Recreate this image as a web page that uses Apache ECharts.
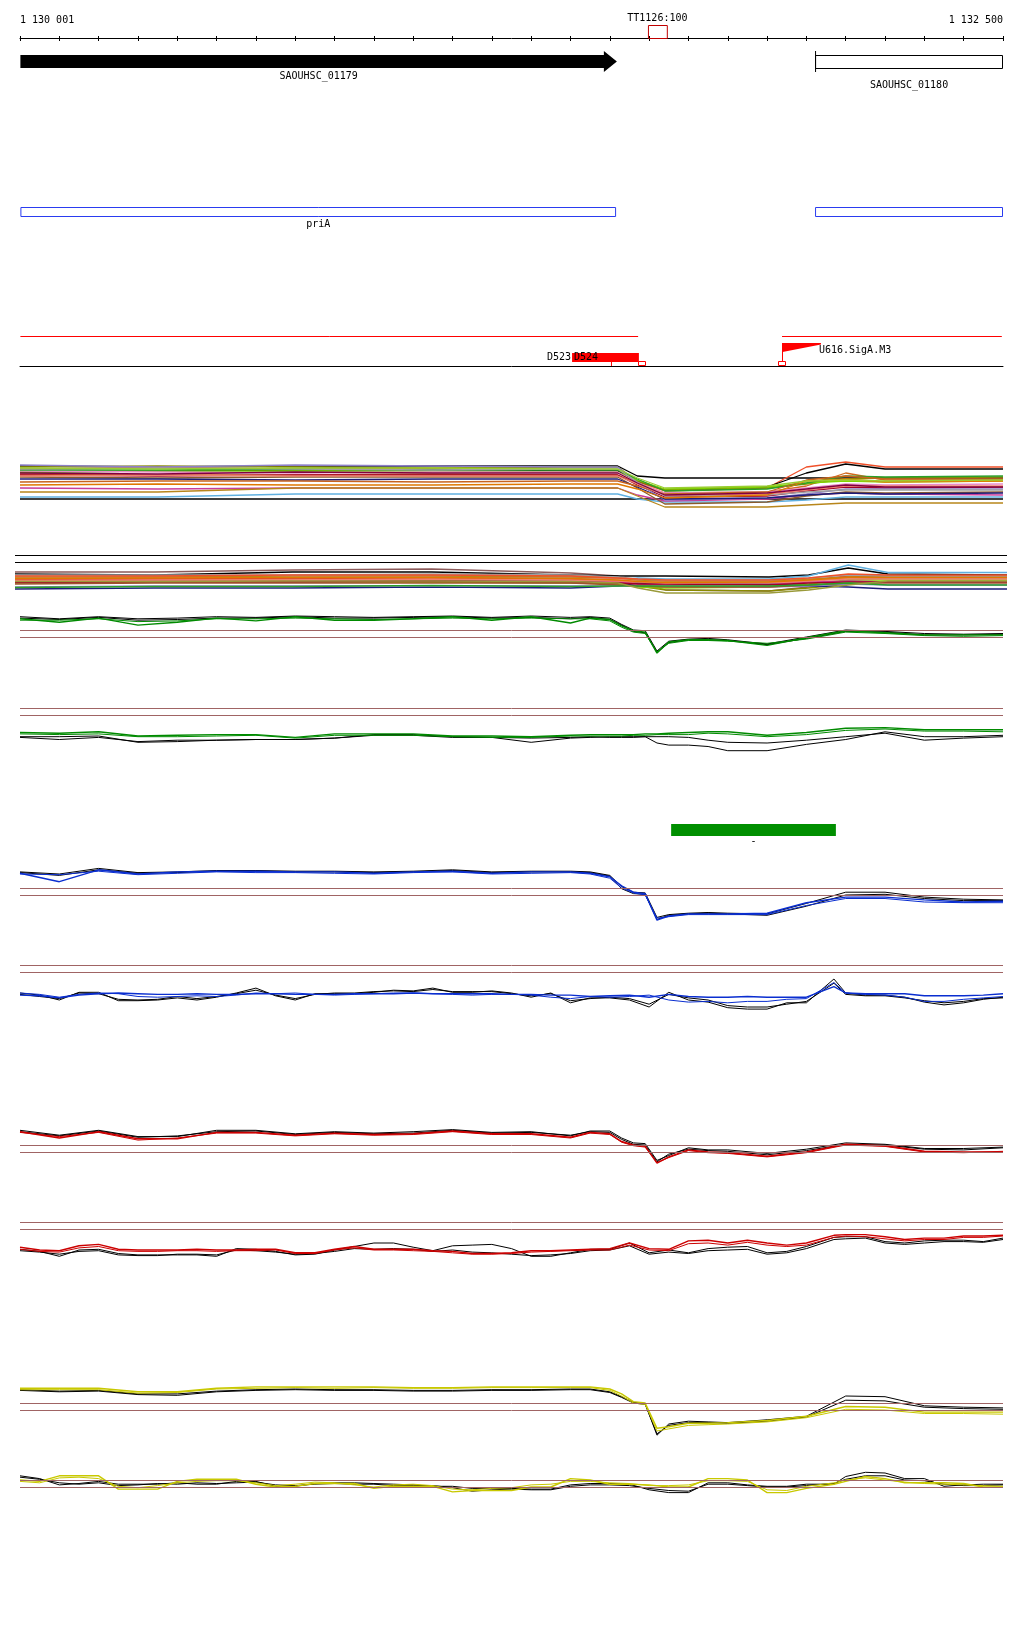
<!DOCTYPE html>
<html>
<head>
<meta charset="utf-8">
<title>SAOUHSC_01179 region</title>
<script src="https://cdn.jsdelivr.net/npm/echarts@6.0.0/dist/echarts.min.js"></script>
<style>
html,body{margin:0;padding:0;background:#ffffff;}
#chart{width:1024px;height:1640px;}
</style>
</head>
<body>
<div id="chart"></div>
<script>
// ---------------- data ----------------
const rangeStart = 1130000;
const rangeEnd = 1132500;
const tickStep = 100;
const rulerLabels = ['1 130 001', '1 132 500'];

const probeNames = ['TT1126:100'];
const probeStarts = [1131597];
const probeEnds = [1131645];

const geneNames = ['SAOUHSC_01179', 'SAOUHSC_01180'];
const geneStarts = [1130001, 1132022];
const geneEnds = [1131518, 1132500];
const geneStrands = [1, -1];

const operonNames = ['priA', ''];
const operonStarts = [1130001, 1132022];
const operonEnds = [1131516, 1132500];

const strandSpanStarts = [1130001, 1131938];
const strandSpanEnds = [1131572, 1132497];

const terminatorNames = ['D523', 'D524'];
const terminatorStarts = [1131404];
const terminatorEnds = [1131574];
const siteTicks = [1131503];
const siteBoxes = [1131581, 1131937];
const promoterNames = ['U616.SigA.M3'];
const promoterStarts = [1131938];
const promoterEnds = [1132037];

const regionNames = ['-'];
const regionStarts = [1131656];
const regionEnds = [1132075];

// positions of the sampled signal values
const posSmooth = [1130000,1130100,1130200,1130300,1130400,1130500,1130600,1130700,1130800,1130900,1131000,1131100,1131200,1131300,1131400,1131450,1131500,1131530,1131560,1131590,1131620,1131650,1131700,1131750,1131800,1131900,1132000,1132100,1132200,1132300,1132400,1132500];
const posNoisy = [1130000,1130050,1130100,1130150,1130200,1130250,1130300,1130350,1130400,1130450,1130500,1130550,1130600,1130650,1130700,1130750,1130800,1130850,1130900,1130950,1131000,1131050,1131100,1131150,1131200,1131250,1131300,1131350,1131400,1131450,1131500,1131550,1131600,1131650,1131700,1131750,1131800,1131850,1131900,1131950,1132000,1132070,1132100,1132150,1132200,1132250,1132300,1132350,1132400,1132450,1132500];
const posMulti = [1130000,1130350,1130700,1131050,1131400,1131520,1131570,1131640,1131900,1132000,1132100,1132200,1132500];

// green track 1
const green1A = [2.6,2.1,2.7,1.7,2.1,2.7,2.3,2.9,2.4,2.4, 2.6,2.9,2.4,2.9,2.0,2.7,2.5,1.6,0.9,0.7, -2.3,-0.7,-0.4,-0.4,-0.5,-1.2,-0.1,0.9,0.6,0.3, 0.3,0.3];
const green1B = [2.4,2.4,2.6,2.2,2.3,2.6,2.6,2.7,2.6,2.5, 2.6,2.7,2.6,2.7,2.6,2.6,2.3,1.4,0.7,0.5, -2.1,-0.9,-0.5,-0.5,-0.6,-0.9,-0.3,0.7,0.5,0.2, 0.1,0.2];
const green1KA = [2.9,2.6,2.9,2.6,2.7,2.9,2.8,3.0,2.9,2.8, 2.9,3.0,2.8,3.0,2.8,2.9,2.7,1.8,1.0,0.9, -2.0,-0.6,-0.3,-0.2,-0.4,-1.0,0.0,1.0,0.8,0.5, 0.4,0.5];
const green1KB = [2.7,2.5,2.8,2.4,2.5,2.7,2.7,2.9,2.7,2.7, 2.8,2.9,2.7,2.8,2.6,2.8,2.5,1.7,0.8,0.6, -2.2,-0.8,-0.4,-0.4,-0.5,-1.1,-0.2,0.8,0.7,0.3, 0.3,0.4];
// green track 2
const green2A = [-2.5,-2.6,-2.4,-3.0,-2.9,-2.8,-2.8,-3.2,-2.7,-2.7, -2.7,-3.0,-3.0,-3.1,-2.9,-2.8,-2.8,-2.8,-2.8,-2.7, -2.7,-2.6,-2.5,-2.4,-2.4,-2.9,-2.5,-1.9,-1.8,-2.1, -2.1,-2.1];
const green2B = [-2.7,-2.8,-2.7,-3.1,-3.1,-3.0,-2.9,-3.3,-2.9,-2.9, -2.9,-3.1,-3.2,-3.2,-3.0,-3.0,-3.0,-3.0,-2.9,-2.9, -2.8,-2.8,-2.8,-2.6,-2.7,-3.1,-2.8,-2.2,-2.0,-2.3, -2.3,-2.4];
const green2KA = [-3.1,-3.1,-3.0,-3.9,-3.8,-3.6,-3.5,-3.5,-3.3,-2.8, -2.8,-3.1,-3.2,-3.9,-3.3,-3.2,-3.1,-3.1,-3.1,-3.1, -4.0,-4.3,-4.3,-4.5,-5.1,-5.1,-4.2,-3.5,-2.4,-3.1, -3.1,-2.9];
const green2KB = [-3.2,-3.5,-3.2,-3.8,-3.6,-3.6,-3.5,-3.5,-3.3,-2.9, -2.9,-3.2,-3.2,-3.3,-3.2,-3.1,-3.2,-3.2,-3.2,-3.1, -3.1,-3.1,-3.2,-3.6,-3.9,-4.0,-3.6,-3.1,-2.6,-3.6, -3.3,-3.1];
// blue track 1
const blue1A = [3.1,1.9,3.6,3.0,3.3,3.4,3.4,3.3,3.3,3.1, 3.3,3.4,3.1,3.3,3.3,3.1,2.6,1.3,0.4,0.2, -3.6,-3.0,-2.7,-2.7,-2.7,-2.6,-1.1,-0.3,-0.3,-0.7, -1.0,-0.9];
const blue1B = [3.0,2.9,3.4,2.9,3.1,3.3,3.2,3.2,3.1,3.0, 3.2,3.3,3.0,3.1,3.2,3.0,2.4,1.0,0.3,0.0, -3.3,-3.1,-2.8,-2.8,-2.8,-2.8,-1.5,-0.5,-0.5,-1.0, -1.1,-1.1];
const blue1KA = [3.3,3.0,3.8,3.2,3.3,3.5,3.5,3.4,3.4,3.3, 3.4,3.6,3.3,3.4,3.4,3.3,2.8,1.2,0.4,0.3, -3.2,-2.8,-2.6,-2.5,-2.6,-2.7,-1.2,0.4,0.4,-0.3, -0.6,-0.7];
const blue1KB = [3.2,2.8,3.6,3.1,3.2,3.4,3.4,3.3,3.3,3.2, 3.3,3.5,3.2,3.3,3.3,3.2,2.7,0.9,0.2,0.1, -3.5,-2.9,-2.7,-2.6,-2.7,-2.9,-1.6,0.0,0.1,-0.5, -0.8,-0.8];
// blue track 2
const blue2A = [-3.3,-3.4,-3.7,-3.3,-3.1,-3.0,-3.1,-3.2,-3.2,-3.1, -3.2,-3.2,-3.1,-3.1,-3.2,-3.2,-3.2,-3.1,-3.1,-3.1, -3.0,-3.1,-3.1,-3.1,-3.1,-3.2,-3.2,-3.3,-3.3,-3.5, -3.4,-3.3,-3.6,-3.2,-3.5,-3.6,-3.6,-3.5,-3.6,-3.6, -3.6,-2.1,-3.0,-3.1,-3.1,-3.1,-3.4,-3.4,-3.4,-3.3,-3.1];
const blue2B = [-3.0,-3.2,-3.6,-3.2,-3.0,-3.1,-3.5,-3.6,-3.5,-3.4, -3.5,-3.3,-3.0,-3.1,-3.0,-3.2,-3.3,-3.2,-3.1,-3.0, -3.0,-3.1,-3.2,-3.3,-3.2,-3.2,-3.3,-3.6,-3.8,-3.5, -3.6,-3.5,-3.3,-4.0,-4.3,-4.2,-4.4,-4.2,-4.2,-3.9, -3.8,-1.5,-3.0,-3.2,-3.3,-3.6,-4.2,-4.2,-3.9,-3.7,-3.5];
const blue2KA = [-3.0,-3.3,-4.0,-2.9,-2.9,-4.1,-4.1,-4.0,-3.7,-4.0, -3.6,-3.0,-2.3,-3.4,-4.0,-3.1,-3.1,-3.1,-2.9,-2.6, -2.7,-2.3,-2.9,-2.9,-2.7,-3.0,-3.6,-3.0,-4.4,-3.7, -3.7,-4.0,-5.0,-2.9,-4.0,-4.3,-5.1,-5.3,-5.3,-4.4, -4.4,-1.0,-3.0,-3.3,-3.3,-3.6,-4.3,-4.7,-4.4,-3.9,-3.6];
const blue2KB = [-3.2,-3.5,-3.8,-3.0,-3.1,-3.9,-4.0,-3.9,-3.5,-3.8, -3.5,-3.1,-2.6,-3.3,-3.8,-3.2,-3.0,-3.0,-2.8,-2.7, -2.8,-2.5,-2.8,-2.8,-2.8,-3.1,-3.4,-3.1,-4.1,-3.8, -3.6,-3.8,-4.6,-3.2,-3.7,-4.0,-4.8,-5.0,-5.0,-4.6, -4.2,-1.6,-3.2,-3.4,-3.4,-3.7,-4.1,-4.4,-4.2,-3.8,-3.7];
// red track 1
const red1A = [2.9,2.0,2.9,1.9,1.9,2.8,2.8,2.4,2.7,2.5, 2.6,3.0,2.6,2.6,2.1,2.8,2.6,1.5,1.0,0.8, -1.6,-0.7,0.3,0.0,-0.1,-0.6,0.0,1.1,0.9,0.1, 0.0,0.0];
const red1B = [2.8,2.2,2.8,1.7,2.0,2.7,2.7,2.3,2.6,2.4, 2.5,2.9,2.5,2.5,2.0,2.7,2.5,1.4,0.9,0.7, -1.5,-0.8,0.2,-0.1,-0.2,-0.7,-0.1,1.0,0.8,0.0, -0.1,0.1];
const red1KA = [3.1,2.4,3.1,2.2,2.2,3.1,3.1,2.6,2.9,2.7, 2.9,3.2,2.8,2.9,2.3,3.0,3.0,2.0,1.3,1.2, -1.2,-0.5,0.6,0.3,0.3,-0.2,0.4,1.3,1.1,0.5, 0.5,0.7];
const red1KB = [2.9,2.3,3.0,2.1,2.3,2.9,3.0,2.5,2.8,2.6, 2.7,3.1,2.7,2.8,2.4,2.9,2.8,1.8,1.1,1.0, -1.4,-0.3,0.4,0.2,0.1,-0.4,0.2,1.1,1.0,0.4, 0.3,0.6];
// red track 2
const red2A = [-2.6,-3.0,-3.1,-2.4,-2.2,-2.9,-3.0,-3.0,-3.0,-2.9, -3.0,-3.0,-2.9,-2.9,-3.4,-3.4,-2.9,-2.5,-2.9,-2.9, -2.9,-3.1,-3.2,-3.5,-3.5,-3.4,-3.1,-3.1,-3.0,-2.9, -2.8,-2.0,-2.8,-2.9,-1.7,-1.6,-2.0,-1.6,-2.0,-2.3, -2.0,-0.9,-0.8,-0.8,-1.1,-1.5,-1.3,-1.3,-1.0,-1.0,-0.9];
const red2B = [-2.9,-3.2,-3.3,-2.7,-2.5,-3.1,-3.2,-3.2,-3.1,-3.1, -3.2,-3.1,-3.1,-3.0,-3.5,-3.5,-3.0,-2.7,-3.0,-3.0, -3.1,-3.2,-3.4,-3.6,-3.6,-3.5,-3.3,-3.2,-3.1,-3.0, -3.0,-2.3,-3.0,-3.1,-2.1,-2.0,-2.3,-1.9,-2.3,-2.5, -2.3,-1.2,-1.0,-1.1,-1.4,-1.7,-1.5,-1.5,-1.2,-1.2,-1.0];
const red2KA = [-2.9,-3.2,-3.9,-3.0,-2.9,-3.5,-3.7,-3.7,-3.7,-3.7, -3.9,-2.8,-2.9,-3.2,-3.7,-3.6,-3.0,-2.5,-2.0,-2.0, -2.6,-3.1,-2.4,-2.3,-2.2,-2.8,-3.9,-3.9,-3.4,-2.9, -2.9,-2.0,-3.4,-3.0,-3.4,-2.8,-2.6,-2.5,-3.4,-3.2, -2.5,-1.2,-1.1,-1.1,-1.8,-2.0,-1.7,-1.6,-1.6,-1.8,-1.3];
const red2KB = [-3.1,-3.3,-3.6,-3.2,-3.1,-3.7,-3.8,-3.8,-3.6,-3.6, -3.7,-3.0,-3.1,-3.3,-3.6,-3.5,-3.2,-2.8,-2.9,-2.8, -2.9,-3.2,-3.0,-3.3,-3.4,-3.6,-3.8,-3.7,-3.5,-3.1, -3.0,-2.4,-3.6,-3.3,-3.5,-3.1,-3.0,-2.9,-3.6,-3.4, -2.8,-1.5,-1.4,-1.3,-2.0,-2.2,-2.0,-1.8,-1.8,-1.9,-1.5];
// yellow track 1
const yellow1A = [3.1,3.1,3.1,2.6,2.6,3.1,3.3,3.3,3.3,3.3, 3.2,3.2,3.3,3.3,3.3,3.3,3.0,2.3,1.2,1.0, -2.6,-2.4,-1.9,-1.9,-1.8,-1.5,-0.9,0.5,0.4,-0.3, -0.3,-0.3];
const yellow1B = [2.9,2.9,2.9,2.4,2.5,3.0,3.1,3.2,3.1,3.2, 3.1,3.1,3.2,3.2,3.2,3.2,2.8,2.0,1.0,0.8, -3.0,-2.7,-2.2,-2.1,-2.0,-1.7,-1.1,0.1,0.0,-0.5, -0.5,-0.6];
const yellow1KA = [2.9,2.7,2.8,2.3,2.3,2.7,2.9,3.0,2.9,2.9, 2.8,2.8,2.9,2.9,3.0,3.0,2.6,1.9,1.1,0.9, -3.6,-2.0,-1.6,-1.7,-1.8,-1.4,-0.9,2.0,1.9,0.6, 0.4,0.3];
const yellow1KB = [2.8,2.6,2.7,2.2,2.1,2.6,2.8,2.9,2.8,2.8, 2.7,2.7,2.8,2.8,2.9,2.9,2.5,1.8,1.0,0.8, -3.4,-2.2,-1.8,-1.8,-1.9,-1.6,-1.0,1.4,1.3,0.4, 0.2,0.1];
// yellow track 2
const yellow2A = [1.0,0.8,1.6,1.6,1.6,-0.3,-0.3,-0.3,0.8,1.1, 1.1,1.1,0.4,0.0,0.1,0.5,0.5,0.5,-0.2,0.1, 0.1,0.1,-0.7,-0.5,-0.5,-0.5,0.0,0.0,1.2,1.0, 0.4,0.4,0.3,0.0,0.0,1.2,1.2,1.0,-0.8,-0.8, -0.2,0.4,0.8,1.5,1.2,0.6,0.6,0.6,0.5,0.0,0.0];
const yellow2B = [0.8,0.6,1.3,1.4,1.2,0.1,-0.1,0.2,0.6,0.8, 0.9,0.9,0.6,0.2,0.4,0.7,0.6,0.3,0.0,0.3, 0.4,0.2,-0.3,-0.4,-0.2,-0.1,0.3,0.4,0.8,0.8, 0.6,0.5,0.2,0.2,0.3,0.9,0.9,0.8,-0.4,-0.5, 0.1,0.6,1.0,1.3,1.0,0.7,0.5,0.4,0.3,0.2,0.1];
const yellow2KA = [1.6,1.2,0.3,0.5,0.8,0.4,0.4,0.4,0.6,0.4, 0.4,0.8,0.8,0.1,0.1,0.5,0.6,0.6,0.5,0.4, 0.3,0.1,0.1,-0.2,-0.2,-0.2,-0.3,-0.3,0.3,0.5, 0.5,0.4,-0.4,-0.8,-0.8,0.6,0.6,0.3,0.1,0.1, 0.4,0.4,1.5,2.1,2.0,1.2,1.2,0.1,0.3,0.4,0.4];
const yellow2KB = [1.4,1.1,0.6,0.4,0.6,0.2,0.3,0.5,0.4,0.6, 0.5,0.6,0.7,0.3,0.2,0.4,0.5,0.4,0.4,0.2, 0.2,0.2,-0.1,-0.6,-0.4,-0.3,-0.4,-0.4,0.1,0.3, 0.3,0.2,-0.2,-0.5,-0.6,0.4,0.4,0.2,0.0,0.0, 0.2,0.5,1.1,1.6,1.6,1.0,0.9,0.4,0.2,0.2,0.3];

// multi-sample band A
const bandAColors = ['#000000','#000000','#f0502a','#000000','#d2691e','#8a8a00','#7fd400','#60b0e0','#c83c9a','#e88cc8','#a00028','#8c80c8','#b8861b','#8b5a2b','#1c1c7a','#2aa02a','#c8641e','#a0a0a0','#f08070','#e07800','#800040','#9acd32'];
const bandAValues = [
  [8.8,8.6,8.8,8.8,8.8,8.8,6.8,6.4,6.4,6.4,6.4,6.4,6.4],
  [2.2,2.2,2.2,2.2,2.2,2.2,2.2,2.2,2.2,2.2,2.2,2.2,2.2],
  [8.2,8.4,8.2,8.2,8.0,8.0,5.6,3.8,4.4,8.6,9.6,8.6,8.6],
  [7.6,7.8,8.0,8.0,7.8,7.8,5.8,4.0,4.6,7.4,9.2,8.2,8.2],
  [7.2,7.0,7.0,7.2,7.0,7.0,5.4,3.4,3.6,4.8,7.4,6.0,6.0],
  [8.6,8.8,8.6,8.4,8.6,8.6,5.8,4.0,4.4,5.2,6.2,6.4,6.6],
  [7.6,7.8,7.8,7.8,7.6,7.6,6.0,4.2,4.6,5.4,5.8,5.6,5.8],
  [2.6,2.6,3.2,3.2,3.2,3.2,2.2,1.6,1.6,2.0,2.6,2.6,2.6],
  [4.4,4.2,4.4,4.4,4.4,4.4,3.0,1.8,2.2,3.0,3.4,3.2,3.0],
  [7.8,7.6,7.4,7.6,7.6,7.6,5.4,3.4,3.6,4.4,5.2,5.0,5.2],
  [7.0,6.8,7.0,7.0,7.0,7.0,5.0,2.6,2.8,3.8,4.6,4.4,4.6],
  [9.0,8.6,9.0,8.8,8.6,8.6,5.4,2.0,2.4,3.2,4.2,4.2,4.2],
  [3.6,3.6,4.4,4.4,4.4,4.4,2.8,0.6,0.6,1.0,1.4,1.4,1.4],
  [6.6,6.4,6.6,6.6,6.6,6.6,4.4,1.2,1.6,2.8,3.6,3.4,3.6],
  [6.2,6.2,6.0,6.2,6.2,6.2,4.6,2.2,2.4,3.0,3.4,3.2,3.4],
  [8.0,8.0,8.2,8.0,8.0,8.0,6.2,3.8,4.2,5.4,6.8,6.6,6.8],
  [5.6,5.8,5.8,5.6,5.8,5.8,4.8,3.2,3.6,6.0,6.8,6.2,6.2],
  [8.2,8.4,8.2,8.0,8.2,8.2,5.6,2.8,3.0,3.6,4.0,4.0,4.0],
  [6.8,7.0,6.8,6.8,6.8,6.8,5.2,3.0,3.2,4.0,4.8,4.8,4.8],
  [5.0,5.2,5.0,5.0,5.2,5.2,4.2,2.4,3.0,5.8,6.2,5.6,5.8],
  [7.4,7.2,7.6,7.4,7.4,7.4,5.4,3.0,3.4,4.2,5.0,4.6,4.6],
  [8.4,8.2,8.4,8.4,8.2,8.2,6.4,4.4,4.8,5.8,6.0,5.8,6.0]
];
// multi-sample band B
const bandBColors = ['#8c5a5a','#000000','#60b0e0','#d2691e','#8a8a00','#7fd400','#e83a30','#c83c9a','#e88cc8','#1c1c7a','#8c80c8','#a00028','#b8861b','#a0a0a0','#a0522d','#f08070','#2aa02a','#f0502a','#e07800','#9a9a3a'];
const bandBValues = [
  [11.2,11.2,12.0,12.4,10.8,9.6,7.2,4.0,3.6,5.2,8.0,8.8,8.8],
  [10.4,10.0,11.2,11.2,10.0,9.6,9.6,9.6,9.2,10.0,12.8,10.4,10.0],
  [8.8,8.8,8.8,9.2,8.8,8.0,8.8,8.4,8.4,9.6,14.0,11.0,11.0],
  [8.0,8.4,8.4,8.8,8.4,7.2,6.8,6.8,6.4,7.6,9.2,9.6,9.6],
  [7.2,7.6,7.6,7.2,6.8,6.4,5.6,4.0,3.6,4.8,6.4,7.2,7.2],
  [6.8,7.2,7.2,7.2,7.2,6.4,5.2,4.8,5.2,6.4,8.0,8.0,8.0],
  [8.4,8.4,8.8,8.8,8.4,7.6,7.6,7.2,7.2,8.0,9.6,9.6,9.6],
  [7.6,7.6,7.6,8.0,7.6,7.2,6.4,6.0,6.4,7.2,7.6,7.2,7.2],
  [8.8,9.2,9.2,9.6,9.2,8.4,7.6,7.2,7.6,8.0,8.8,8.8,8.8],
  [4.4,4.8,4.8,5.2,4.8,5.6,6.8,6.8,6.4,5.6,5.2,4.4,4.4],
  [5.2,5.6,5.6,5.6,5.6,5.6,5.6,5.6,5.2,5.6,6.4,6.0,6.0],
  [7.0,7.2,7.2,7.6,7.2,6.8,6.4,6.4,6.0,6.8,7.2,7.2,7.2],
  [9.2,9.2,9.6,9.6,9.2,8.8,8.0,7.6,7.6,8.4,9.2,9.2,9.2],
  [10.0,10.0,10.0,10.4,10.0,9.2,8.4,8.0,8.0,8.8,10.0,9.6,9.6],
  [6.4,6.8,6.8,6.8,6.8,6.0,5.6,5.2,5.2,6.0,6.8,6.8,6.8],
  [7.8,8.0,8.0,8.4,8.0,7.6,7.2,6.8,6.8,7.6,8.4,8.4,8.4],
  [5.0,5.4,5.4,5.8,5.4,5.6,5.6,5.6,5.6,6.0,6.8,6.0,6.0],
  [9.6,9.6,10.0,10.0,9.6,8.8,8.4,8.0,8.0,8.8,10.4,10.0,10.0],
  [8.6,8.8,9.0,9.0,8.6,8.0,7.4,7.0,7.2,8.0,9.0,9.0,9.0],
  [7.4,7.4,7.6,7.6,7.4,6.8,4.8,2.8,2.8,4.0,6.0,7.6,7.6]
];
const bandBThresholds = [18, 15.2];
const refLevels = [0, 1];

// ---------------- chart ----------------
const FONT = '10px "DejaVu Sans Mono", "Liberation Mono", monospace';
const BROWN = '#a06464';
const UNIT = 7;
const grids = [], xAxes = [], yAxes = [], series = [];

function addGrid(box, ymin, ymax, axisOpts) {
  const gi = grids.length;
  grids.push(Object.assign({left: 20, right: 21, containLabel: false, outerBoundsMode: 'none'}, box));
  xAxes.push(Object.assign({type: 'value', gridIndex: gi, min: rangeStart, max: rangeEnd, show: false}, axisOpts || {}));
  yAxes.push({type: 'value', gridIndex: gi, min: ymin, max: ymax, show: false});
  return gi;
}
function txt(x, y, text, align, fill) {
  return {type: 'text', x: x, y: y, style: {text: text, fill: fill || '#000', font: FONT, align: align || 'center', verticalAlign: 'middle'}};
}
function customSeries(gi, data, renderItem) {
  series.push({type: 'custom', xAxisIndex: gi, yAxisIndex: gi, silent: true, clip: false, animation: false,
    dimensions: ['a', 'b', 'c'], encode: {x: [0, 1], y: 2}, data: data, renderItem: renderItem, z: 5});
}
function lineSeries(gi, xs, ys, color, extra, width) {
  series.push(Object.assign({type: 'line', xAxisIndex: gi, yAxisIndex: gi, silent: true, animation: false,
    symbol: 'none', showSymbol: false, data: xs.map((x, i) => [x, ys[i]]),
    lineStyle: {color: color, width: width || 1}, z: 2}, extra || {}));
}

// ruler
const gRuler = addGrid({top: 25, height: 13}, 0, 1, {
  show: true, interval: tickStep,
  axisLine: {show: true, lineStyle: {color: '#000', width: 1}},
  axisTick: {show: true, length: 3, lineStyle: {color: '#000'}},
  axisLabel: {show: false}, splitLine: {show: false}
});
const rulerInnerTicks = {type: 'value', gridIndex: gRuler, min: rangeStart, max: rangeEnd, interval: tickStep, position: 'bottom',
  axisLine: {show: false}, axisTick: {show: true, inside: true, length: 2, lineStyle: {color: '#000'}},
  axisLabel: {show: false}, splitLine: {show: false}};
customSeries(gRuler, rulerLabels.map((t, i) => [i === 0 ? rangeStart : rangeEnd, i === 0 ? rangeStart : rangeEnd, i]), function (params, api) {
  const i = api.value(2);
  const p = api.coord([api.value(0), 1]);
  return txt(p[0], p[1] - 5, rulerLabels[i], i === 0 ? 'left' : 'right');
});
customSeries(gRuler, probeNames.map((n, i) => [probeStarts[i], probeEnds[i], i]), function (params, api) {
  const i = api.value(2);
  const a = api.coord([api.value(0), 1]);
  const b = api.coord([api.value(1), 0]);
  return {type: 'group', children: [
    {type: 'rect', shape: {x: a[0] + 0.5, y: a[1] + 0.5, width: b[0] - a[0], height: b[1] - a[1]}, style: {fill: 'none', stroke: '#c00000', lineWidth: 1}},
    txt((a[0] + b[0]) / 2, a[1] - 6.5, probeNames[i], 'center')
  ]};
});

// genes
const geneLabelGap = [8.5, 17.5];
const gGenes = addGrid({top: 55, height: 13}, 0, 1);
customSeries(gGenes, geneNames.map((n, i) => [geneStarts[i], geneEnds[i], i]), function (params, api) {
  const i = api.value(2);
  const a = api.coord([api.value(0), 1]);
  const b = api.coord([api.value(1), 0]);
  const x0 = a[0], x1 = b[0], top = a[1], bot = b[1], mid = (top + bot) / 2;
  const ch = [];
  if (geneStrands[i] > 0) {
    const hx = x1 - 13;
    ch.push({type: 'polygon', shape: {points: [[x0, top], [hx, top], [hx, top - 4], [x1, mid], [hx, bot + 4], [hx, bot], [x0, bot]]}, style: {fill: '#000'}});
  } else {
    ch.push({type: 'rect', shape: {x: x0 + 0.5, y: top + 0.5, width: x1 - x0 - 1, height: bot - top}, style: {fill: '#fff', stroke: '#000', lineWidth: 1}});
    ch.push({type: 'line', shape: {x1: x0 + 0.5, y1: top - 4, x2: x0 + 0.5, y2: bot + 4}, style: {stroke: '#000', lineWidth: 1}});
  }
  ch.push(txt((x0 + x1) / 2, bot + geneLabelGap[i], geneNames[i], 'center'));
  return {type: 'group', children: ch};
});

// operons
const gOperon = addGrid({top: 207, height: 9}, 0, 1);
customSeries(gOperon, operonNames.map((n, i) => [operonStarts[i], operonEnds[i], i]), function (params, api) {
  const i = api.value(2);
  const a = api.coord([api.value(0), 1]);
  const b = api.coord([api.value(1), 0]);
  const ch = [{type: 'rect', shape: {x: a[0] + 0.5, y: a[1] + 0.5, width: b[0] - a[0] - 1, height: b[1] - a[1]}, style: {fill: 'none', stroke: '#2a3cf0', lineWidth: 1}}];
  if (operonNames[i]) ch.push(txt((a[0] + b[0]) / 2, b[1] + 8, operonNames[i], 'center'));
  return {type: 'group', children: ch};
});

// motif / terminator / promoter lane
const gMotif = addGrid({top: 336, height: 30}, 0, 1, {
  show: true, axisLine: {show: true, lineStyle: {color: '#000', width: 1}},
  axisTick: {show: false}, axisLabel: {show: false}, splitLine: {show: false}
});
customSeries(gMotif, strandSpanStarts.map((s, i) => [s, strandSpanEnds[i], 1]), function (params, api) {
  const a = api.coord([api.value(0), 1]);
  const b = api.coord([api.value(1), 1]);
  return {type: 'line', shape: {x1: a[0], y1: a[1] + 0.5, x2: b[0], y2: b[1] + 0.5}, style: {stroke: '#ff0000', lineWidth: 1}};
});
customSeries(gMotif, terminatorStarts.map((s, i) => [s, terminatorEnds[i], 0]), function (params, api) {
  const a = api.coord([api.value(0), 0]);
  const b = api.coord([api.value(1), 0]);
  const base = a[1];
  return {type: 'group', children: [
    {type: 'rect', shape: {x: a[0], y: base - 13, width: b[0] - a[0], height: 9}, style: {fill: '#ff0000'}},
    txt(a[0] - 1, base - 8.5, terminatorNames[0], 'right'),
    txt(a[0] + 2, base - 8.5, terminatorNames[1], 'left')
  ]};
});
customSeries(gMotif, siteTicks.map(s => [s, s, 0]), function (params, api) {
  const a = api.coord([api.value(0), 0]);
  return {type: 'line', shape: {x1: a[0] + 0.5, y1: a[1] - 4, x2: a[0] + 0.5, y2: a[1]}, style: {stroke: '#ff0000', lineWidth: 1}};
});
customSeries(gMotif, siteBoxes.map(s => [s, s, 0]), function (params, api) {
  const a = api.coord([api.value(0), 0]);
  return {type: 'rect', shape: {x: Math.round(a[0]) - 3.5, y: a[1] - 4.5, width: 7, height: 4}, style: {fill: '#fff', stroke: '#ff0000', lineWidth: 1}};
});
customSeries(gMotif, promoterStarts.map((s, i) => [s, promoterEnds[i], 0]), function (params, api) {
  const a = api.coord([api.value(0), 0]);
  const b = api.coord([api.value(1), 0]);
  const x = Math.round(a[0]) + 0.5, base = a[1], top = base - 23;
  return {type: 'group', children: [
    {type: 'line', shape: {x1: x, y1: top, x2: x, y2: base - 4}, style: {stroke: '#ff0000', lineWidth: 1}},
    {type: 'polygon', shape: {points: [[x, top], [b[0], top], [b[0], top + 1.5], [x, top + 9]]}, style: {fill: '#ff0000'}},
    txt(b[0] - 2, top + 7, promoterNames[0], 'left')
  ]};
});

// green region bar
const gRegion = addGrid({top: 824, height: 12}, 0, 1);
customSeries(gRegion, regionStarts.map((s, i) => [s, regionEnds[i], i]), function (params, api) {
  const i = api.value(2);
  const a = api.coord([api.value(0), 1]);
  const b = api.coord([api.value(1), 0]);
  return {type: 'group', children: [
    {type: 'rect', shape: {x: a[0], y: a[1], width: b[0] - a[0], height: b[1] - a[1]}, style: {fill: '#008f00'}},
    txt((a[0] + b[0]) / 2, b[1] + 5, regionNames[i], 'center')
  ]};
});

// multi-sample bands
const gBandA = addGrid({top: 460, height: 50}, 0, 10);
bandAValues.forEach((vals, i) => lineSeries(gBandA, posMulti, vals, bandAColors[i], null, 1.3));
const gBandB = addGrid({top: 550, height: 50, left: 15, right: 17}, 0, 20);
bandBValues.forEach((vals, i) => lineSeries(gBandB, posMulti, vals, bandBColors[i],
  i === 0 ? {markLine: {silent: true, symbol: ['none', 'none'], label: {show: false}, animation: false,
    lineStyle: {color: '#000', width: 1, type: 'solid'}, data: bandBThresholds.map(v => ({yAxis: v}))}} : null, 1.3));

// paired signal tracks
function pairedTrack(zeroY, ymin, ymax, xs, lines) {
  const gi = addGrid({top: zeroY - ymax * UNIT, height: (ymax - ymin) * UNIT}, ymin, ymax);
  lines.forEach((ln, i) => lineSeries(gi, xs, ln[0], ln[1],
    i === 0 ? {markLine: {silent: true, symbol: ['none', 'none'], label: {show: false}, animation: false,
      lineStyle: {color: BROWN, width: 1, type: 'solid'}, data: refLevels.map(v => ({yAxis: v}))}} : null,
    i === 3 ? 1.4 : 1));
}
const GREEN = '#008a00', BLUE = '#0a2ed0', RED = '#cc0000', YELLOW = '#c8c800', BLACK = '#000000';
pairedTrack(637, -4, 4, posSmooth, [[green1KA, BLACK], [green1KB, BLACK], [green1B, GREEN], [green1A, GREEN]]);
pairedTrack(715, -6, 2, posSmooth, [[green2KA, BLACK], [green2KB, BLACK], [green2B, GREEN], [green2A, GREEN]]);
pairedTrack(895, -5, 5, posSmooth, [[blue1KA, BLACK], [blue1KB, BLACK], [blue1B, BLUE], [blue1A, BLUE]]);
pairedTrack(972, -6, 2, posNoisy, [[blue2KA, BLACK], [blue2KB, BLACK], [blue2B, BLUE], [blue2A, BLUE]]);
pairedTrack(1152, -3, 4, posSmooth, [[red1KA, BLACK], [red1KB, BLACK], [red1B, RED], [red1A, RED]]);
pairedTrack(1229, -5, 2, posNoisy, [[red2KA, BLACK], [red2KB, BLACK], [red2B, RED], [red2A, RED]]);
pairedTrack(1410, -5, 4, posSmooth, [[yellow1KA, BLACK], [yellow1KB, BLACK], [yellow1B, YELLOW], [yellow1A, YELLOW]]);
pairedTrack(1487, -3, 3, posNoisy, [[yellow2KA, BLACK], [yellow2KB, BLACK], [yellow2B, YELLOW], [yellow2A, YELLOW]]);

// extra tick axis for the ruler goes last so that axis indices match grid indices
xAxes.push(rulerInnerTicks);

const chart = echarts.init(document.getElementById('chart'), null, {renderer: 'canvas'});
chart.setOption({
  backgroundColor: '#ffffff',
  animation: false,
  grid: grids,
  xAxis: xAxes,
  yAxis: yAxes,
  series: series
});
</script>
</body>
</html>
